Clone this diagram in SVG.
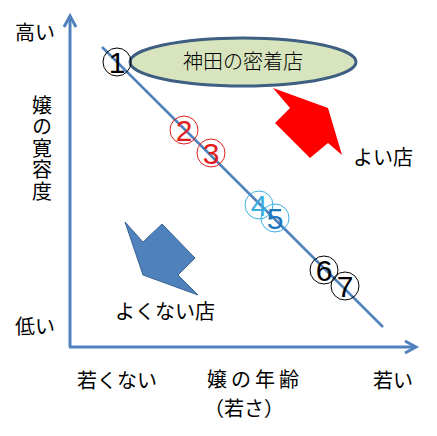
<svg xmlns="http://www.w3.org/2000/svg" width="437" height="436" viewBox="0 0 437 436">
<style>
.t{font-family:"Noto Sans CJK JP","Noto Sans CJK SC",sans-serif;font-size:20px;fill:#000}
.ax{stroke:#4F81BD;stroke-width:3;fill:none}
.c{fill:none;stroke-width:1}
.n{font-family:"Liberation Sans",Arial,sans-serif;font-size:30px;text-anchor:middle}
</style>
<rect width="437" height="436" fill="#fff"/>
<g id="axes">
<line class="ax" x1="70" y1="347" x2="70" y2="16"/>
<polyline class="ax" points="64,27 70,16 76,27"/>
<line class="ax" x1="69" y1="347" x2="416" y2="347"/>
<polyline class="ax" points="405,341 416,347 405,353"/>
</g>
<g id="connectors">
<line x1="102" y1="47" x2="383" y2="327" stroke="#4F81BD" stroke-width="2.5"/>
</g>
<g id="ellipse">
<ellipse cx="243" cy="62" rx="113" ry="24" fill="#D7E4BD" stroke="#3E5E82" stroke-width="3"/>
<text class="t" x="243" y="69" text-anchor="middle" font-weight="300" font-size="19">神田の密着店</text>
</g>
<g id="p1"><circle class="c" cx="117" cy="62" r="14" stroke="#000"/><text class="n" x="117" y="73" fill="#000">1</text></g>
<g id="p2"><circle class="c" cx="184" cy="130" r="14" stroke="#E01E1E"/><text class="n" x="184" y="141" fill="#E01E1E">2</text></g>
<g id="p3"><circle class="c" cx="211" cy="153" r="14" stroke="#E01E1E"/><text class="n" x="211" y="164" fill="#E01E1E">3</text></g>
<g id="p4"><circle class="c" cx="259" cy="205" r="14" stroke="#3AAEE2"/><text class="n" x="259" y="216" fill="#3AAEE2">4</text></g>
<g id="p5"><circle class="c" cx="275" cy="218" r="14" stroke="#3AAEE2"/><text class="n" x="275" y="229" fill="#1C78BE">5</text></g>
<g id="p6"><circle class="c" cx="324" cy="270" r="14" stroke="#000"/><text class="n" x="324" y="281" fill="#000">6</text></g>
<g id="p7"><circle class="c" cx="345" cy="286" r="14" stroke="#000"/><text class="n" x="345" y="297" fill="#000">7</text></g>
<g id="good-arrow">
<polygon points="273,88 328,108 342,155 328,143 310,158 275,123 290,108" fill="#FF0000"/>
</g>
<g id="bad-arrow">
<polygon points="125,222 143,242 162,224 195,258 178,275 198,295 143,275" fill="#4F81BD" stroke="#3A6593" stroke-width="1"/>
</g>
<g id="labels">
<text class="t" x="15" y="40">高い</text>
<text class="t" x="15" y="334">低い</text>
<text class="t" x="42" y="95" font-size="21" style="writing-mode:vertical-rl" letter-spacing="1.5">嬢の寛容度</text>
<text class="t" x="353" y="165">よい店</text>
<text class="t" x="115" y="319">よくない店</text>
<text class="t" x="77" y="388">若くない</text>
<text class="t" x="207" y="387" letter-spacing="4">嬢の年齢</text>
<text class="t" x="204" y="416" font-size="19">（若さ）</text>
<text class="t" x="373" y="388">若い</text>
</g>
</svg>
